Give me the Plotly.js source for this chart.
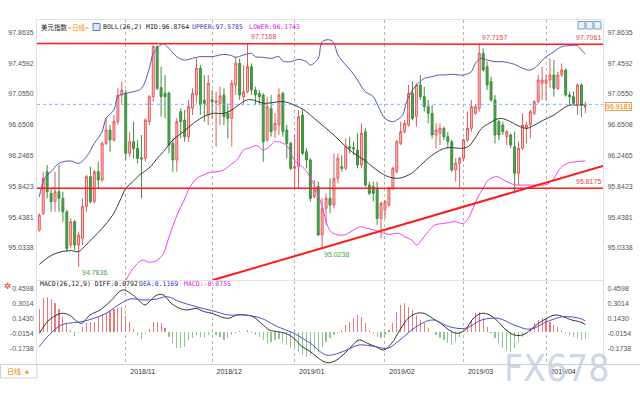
<!DOCTYPE html>
<html><head><meta charset="utf-8">
<script src="https://cdn.plot.ly/plotly-3.0.1.min.js"></script>
<style>html,body{margin:0;padding:0;background:#fff}#chart{width:640px;height:400px}</style>
</head><body><div id="chart"></div>
<script>
// ---- data ----
const open = [95.269,95.488,96.034,95.750,95.641,95.772,95.684,95.509,95.072,95.378,
95.072,95.160,95.575,95.969,95.641,96.034,95.925,96.406,96.581,96.450,
96.691,97.041,97.063,96.275,96.428,96.341,96.218,96.210,96.691,97.019,
97.675,97.137,97.063,97.063,96.406,96.188,96.822,96.713,96.494,96.866,
97.041,97.391,96.975,96.778,96.975,96.944,96.931,97.041,96.800,96.734,
97.172,97.456,97.019,97.084,97.412,97.106,97.063,97.041,96.450,96.866,
96.581,96.647,97.063,96.581,96.406,96.078,96.100,96.778,96.297,96.188,
95.706,95.838,95.203,95.553,95.684,95.597,95.947,96.100,96.078,96.363,
96.350,96.319,96.122,96.559,95.859,95.838,95.816,95.422,95.531,95.597,
95.816,96.034,96.406,96.559,96.647,97.063,96.756,97.172,97.019,96.888,
96.800,96.516,96.538,96.603,96.494,96.428,96.056,96.144,96.210,96.450,
96.603,96.800,96.866,97.587,97.412,97.216,96.975,96.691,96.647,96.494,
96.516,96.363,96.013,96.341,96.603,96.647,96.800,96.953,97.194,97.194,
97.237,97.303,97.128,97.303,97.369,97.041,97.019,96.909,97.172,96.905];
const high = [95.488,96.034,96.122,95.816,96.034,96.122,95.772,95.531,95.422,95.400,
95.247,95.684,95.991,96.100,96.056,96.166,96.428,96.734,96.647,96.778,
97.128,97.216,97.106,96.559,96.691,96.450,96.516,96.734,97.041,97.700,
97.690,97.412,97.303,97.084,96.472,96.734,96.866,96.844,96.975,97.128,
97.522,97.434,97.303,97.303,97.106,97.084,97.150,97.128,96.931,97.237,
97.544,97.522,97.434,97.7168,97.456,97.150,97.106,97.063,97.019,97.041,
96.800,97.128,97.084,96.647,96.428,96.516,96.844,96.844,96.341,96.210,
95.925,95.903,95.684,95.750,95.947,96.275,96.275,96.253,96.472,96.494,
96.428,96.538,96.669,96.603,95.903,95.903,95.903,95.641,95.663,95.838,
96.100,96.450,96.691,96.713,97.172,97.216,97.194,97.303,97.150,96.975,
96.909,96.669,96.669,96.625,96.559,96.450,96.210,96.231,96.472,96.822,
96.975,96.909,97.7157,97.653,97.478,97.281,97.041,96.713,96.691,96.581,
96.538,96.559,96.428,96.800,96.691,96.844,96.975,97.303,97.412,97.303,
97.522,97.500,97.347,97.456,97.391,97.084,97.084,97.194,97.194,96.953];
const low = [95.247,95.466,95.684,95.509,95.509,95.509,95.378,94.984,95.028,95.006,
94.7836,95.072,95.509,95.619,95.619,95.816,95.903,96.384,96.297,96.428,
96.647,96.931,96.188,96.231,96.210,96.144,95.684,96.166,96.647,96.953,
97.106,96.756,96.734,96.275,96.034,96.034,96.472,96.428,96.428,96.778,
96.931,96.778,96.691,96.647,96.734,96.363,96.647,96.647,96.472,96.363,
97.041,96.975,96.909,97.063,97.041,96.909,96.909,96.166,96.428,96.494,
96.472,96.516,96.494,96.210,96.056,95.816,95.816,96.253,96.078,95.641,
95.684,95.195,95.0238,95.335,95.488,95.553,95.881,96.034,96.056,96.275,
96.253,96.078,96.078,95.838,95.728,95.641,95.335,95.160,95.422,95.575,
95.794,96.013,96.384,96.538,96.625,96.713,96.625,96.975,96.822,96.669,
96.472,96.341,96.384,96.450,96.341,96.034,95.903,95.825,96.166,96.428,
96.559,96.778,96.822,97.347,97.106,96.953,96.406,96.450,96.516,96.384,
96.341,95.750,95.859,96.319,96.406,96.472,96.778,96.931,96.975,96.975,
97.128,97.019,97.106,97.281,97.019,96.909,96.909,96.778,96.756,96.800];
const close = [95.466,95.947,95.772,95.641,95.772,95.684,95.509,95.028,95.378,95.072,
95.203,95.575,95.969,95.641,96.034,95.925,96.406,96.581,96.450,96.691,
97.041,97.106,96.275,96.428,96.341,96.210,96.201,96.713,97.019,97.675,
97.128,97.019,97.019,96.384,96.188,96.691,96.691,96.494,96.888,97.063,
97.391,96.909,96.931,97.194,96.953,96.962,97.028,96.756,96.734,97.194,
97.456,97.041,97.084,97.412,97.106,97.041,97.019,96.428,96.888,96.559,
96.669,97.041,96.559,96.406,96.078,96.100,96.756,96.275,96.188,95.684,
95.794,95.203,95.553,95.684,95.597,95.947,96.210,96.078,96.363,96.341,
96.332,96.122,96.538,95.859,95.750,95.750,95.422,95.619,95.641,95.816,
96.078,96.428,96.559,96.669,97.063,96.734,97.172,97.019,96.888,96.800,
96.516,96.581,96.603,96.494,96.428,96.056,96.144,96.210,96.450,96.603,
96.888,96.888,97.587,97.369,97.172,96.975,96.516,96.516,96.559,96.559,
96.384,96.013,96.341,96.647,96.647,96.822,96.953,97.237,97.237,97.237,
97.303,97.128,97.303,97.369,97.041,97.019,96.931,97.172,96.909,96.9181];

// BOLL(26,2) bands, [candle index, value]
const upperPts = [[0,95.706],[1,95.903],[2,95.991],[3,96.034],[5,96.144],[8,96.175],[10,96.144],[12,96.231],[14,96.406],[16,96.559],[17,96.734],[19,96.844],[20,97.019],[22,97.063],[24,97.084],[26,97.128],[28,97.391],[29,97.587],[30,97.653],[31.5,97.715],[33,97.653],[35,97.544],[37,97.500],[39,97.522],[41,97.544],[44,97.544],[47,97.574],[49,97.557],[50,97.535],[52,97.566],[54,97.587],[55,97.544],[57,97.535],[59,97.522],[61,97.544],[62,97.487],[64,97.478],[66,97.509],[68,97.478],[69,97.434],[71,97.522],[72,97.741],[74,97.763],[75,97.719],[76,97.566],[78,97.434],[79.5,97.347],[81,97.237],[83,97.084],[85,97.019],[86.5,96.866],[88,96.734],[90,96.691],[91,96.713],[92.5,96.778],[93.5,96.953],[95,97.106],[96.5,97.194],[98,97.259],[100,97.281],[101.5,97.303],[103,97.303],[105,97.312],[107,97.303],[108,97.303],[110,97.347],[111,97.456],[112.5,97.522],[114,97.500],[116,97.478],[118,97.478],[121,97.443],[123,97.391],[125,97.369],[127,97.434],[128.5,97.522],[131,97.609],[133,97.675],[135,97.688],[137,97.688],[138,97.631],[139,97.5785]];
const midPts = [[0,94.818],[2.5,94.919],[5,94.976],[8,94.998],[10,94.985],[11.5,95.050],[13.5,95.160],[16,95.291],[18.7,95.466],[20.8,95.684],[22,95.816],[23.8,95.903],[25.5,95.991],[26.7,96.034],[28.5,96.110],[30,96.210],[31.6,96.297],[34,96.450],[36.7,96.559],[39.2,96.669],[41.8,96.756],[44.3,96.800],[46.9,96.800],[49,96.844],[50.7,96.909],[52.8,96.975],[54.5,96.975],[56.2,96.944],[57.7,96.931],[59.8,96.944],[62.3,96.953],[64.9,96.909],[67.4,96.844],[70,96.734],[72.5,96.625],[75,96.516],[77.6,96.384],[80.1,96.275],[82.7,96.188],[84.8,96.100],[86.5,96.034],[88.8,95.969],[91.4,95.947],[93,95.969],[94.8,96.013],[96.4,96.087],[99,96.210],[100.7,96.275],[103.2,96.341],[105,96.350],[107.5,96.341],[109.2,96.363],[110.9,96.472],[112.6,96.603],[114.5,96.669],[116,96.713],[117.3,96.734],[119,96.713],[120.7,96.669],[122.4,96.625],[124.1,96.603],[125.8,96.638],[128.4,96.713],[131,96.778],[133.4,96.866],[135.1,96.909],[136.8,96.909],[138.5,96.909],[139,96.8764]];
const lowerPts = [[22,94.600],[23,94.700],[24.6,94.810],[26.3,94.875],[28,94.845],[30,94.875],[31.6,94.960],[32.9,95.160],[34.1,95.335],[35.4,95.509],[36.7,95.641],[38.4,95.838],[40.1,95.947],[41.8,95.991],[43.5,96.026],[45.2,96.034],[46.9,96.056],[48.6,96.122],[50.3,96.188],[52,96.319],[53.7,96.350],[55.4,96.376],[57,96.319],[59,96.384],[59.8,96.428],[61.5,96.420],[63.2,96.363],[64.4,96.231],[65.7,96.144],[67.4,96.078],[69.1,95.947],[70.7,95.772],[72,95.575],[73.3,95.335],[74.2,95.247],[75.4,95.212],[77.6,95.203],[79.3,95.247],[81.8,95.313],[83.5,95.291],[85.2,95.269],[86.7,95.247],[88.8,95.212],[91.4,95.225],[93,95.181],[94.8,95.138],[96.1,95.072],[97.3,95.138],[99,95.247],[100.7,95.335],[103.2,95.356],[105.7,95.378],[107.9,95.356],[109.2,95.422],[110.4,95.553],[111.7,95.706],[113,95.816],[114.3,95.925],[116.5,95.969],[118.2,95.925],[119.9,95.881],[121.6,95.859],[124.1,95.859],[126.7,95.859],[129.3,95.868],[131,95.947],[132.6,96.078],[134.4,96.144],[136.8,96.166],[139,96.1743]];

// MACD(26,12,9)
const diffPts = [[0,-0.016],[2.5,0.125],[5.6,0.195],[7.6,0.178],[9.7,0.107],[10.8,0.090],[12.9,0.178],[15.5,0.231],[18,0.319],[21.2,0.442],[23.2,0.407],[25.3,0.336],[26.9,0.283],[28.4,0.336],[30,0.389],[31.6,0.389],[33.6,0.301],[35.7,0.248],[37.8,0.231],[39.9,0.248],[42,0.213],[44,0.195],[46.1,0.160],[48.2,0.143],[50.3,0.178],[52.3,0.178],[54.4,0.160],[56.5,0.090],[58.6,0.019],[60.6,0.002],[62.7,-0.016],[64.8,-0.069],[66.9,-0.157],[69,-0.209],[71.1,-0.280],[73.1,-0.325],[75.2,-0.310],[77.3,-0.245],[79.4,-0.157],[81.4,-0.086],[83.5,-0.121],[85.6,-0.157],[87.7,-0.192],[89.7,-0.121],[91.8,0.019],[93.9,0.143],[96,0.195],[98,0.195],[100.1,0.143],[102.2,0.090],[104.3,0.019],[106.4,-0.016],[108.4,0.019],[110.5,0.143],[112.6,0.195],[114.7,0.178],[116.8,0.107],[118.8,0.019],[120.9,-0.033],[123,-0.033],[125,0.019],[127.1,0.090],[129.2,0.143],[131.3,0.178],[133.4,0.160],[135.5,0.125],[137.5,0.107],[139,0.0792]];
const deaPts = [[0,-0.157],[2.5,-0.033],[5.6,0.072],[8.7,0.097],[10.8,0.107],[13.9,0.143],[17,0.195],[20.1,0.283],[23.2,0.347],[26.4,0.336],[29.5,0.343],[32.6,0.371],[35.7,0.319],[39.9,0.266],[44,0.224],[48.2,0.178],[52.3,0.178],[56.5,0.143],[60.6,0.055],[64.8,-0.016],[69,-0.121],[73.1,-0.245],[77.3,-0.209],[81.4,-0.139],[85.6,-0.157],[88.7,-0.174],[91.8,-0.086],[96,0.055],[100.1,0.125],[104.3,0.055],[108.4,0.037],[112.6,0.125],[116.8,0.143],[120.9,0.072],[125,0.027],[129.2,0.107],[133.4,0.160],[137.5,0.143],[139,0.1169]];
const macdHist = [0.238,0.354,0.364,0.343,0.308,0.238,0.160,0.090,0.019,-0.044,
-0.016,0.055,0.097,0.107,0.107,0.153,0.185,0.202,0.224,0.238,
0.248,0.266,0.170,0.100,0.030,-0.033,-0.079,-0.016,0.026,0.107,
0.107,0.090,0.037,-0.051,-0.121,-0.174,-0.174,-0.157,-0.086,-0.069,
-0.033,-0.051,-0.069,-0.033,-0.016,-0.033,-0.051,-0.086,-0.069,-0.033,
-0.009,0.012,0.002,0.019,-0.009,-0.033,-0.051,-0.086,-0.121,-0.104,
-0.086,-0.079,-0.104,-0.139,-0.174,-0.192,-0.209,-0.245,-0.262,-0.245,
-0.192,-0.209,-0.157,-0.104,-0.069,-0.033,-0.016,0.019,0.072,0.107,
0.143,0.178,0.160,0.090,0.019,-0.016,-0.051,-0.069,-0.033,0.019,
0.090,0.213,0.283,0.301,0.266,0.231,0.178,0.125,0.090,0.037,
0.002,-0.033,-0.069,-0.086,-0.121,-0.139,-0.104,-0.051,0.002,0.055,
0.125,0.196,0.213,0.143,0.055,-0.016,-0.069,-0.121,-0.174,-0.192,
-0.209,-0.174,-0.104,-0.051,0.002,0.037,0.090,0.125,0.143,0.132,
0.107,0.072,0.055,0.019,-0.016,-0.033,-0.051,-0.069,-0.086,-0.0755];

// drawn lines: [candle index], [price]
const resistX = [-0.6, 143.5], resistY = [97.7168, 97.7061];
const supportX = [-0.6, 143.5], supportY = [95.8175, 95.8175];
const trendX = [44.2, 143.5], trendY = [94.612, 96.11];
const lastClose = 96.9181;

const priceTicks = [97.8635,97.4592,97.0550,96.6508,96.2465,95.8423,95.4381,95.0338];
const macdTicks = [0.4598,0.3014,0.1430,-0.0154,-0.1738];

// trading days (weekdays) 2018-10-02 .. 2019-04-15
const dates = [];
for (let t = Date.UTC(2018,9,2); t <= Date.UTC(2019,3,15); t += 86400000) {
  const d = new Date(t); const wd = d.getUTCDay();
  if (wd !== 0 && wd !== 6) dates.push(d);
}
const idx = dates.map((d,i)=>i);
const monthIdx = [], monthLbl = [];
dates.forEach((d,i)=>{ if (i>0 && d.getUTCMonth() !== dates[i-1].getUTCMonth()) {
  monthIdx.push(i); monthLbl.push(d.getUTCFullYear()+'/'+String(d.getUTCMonth()+1).padStart(2,'0')); }});

// ---- layout helpers (pixel -> paper) ----
const L=37, R=603, T=20, B=364, W=R-L, H=B-T;
const px = v => (v-L)/W, py = v => (B-v)/H;
const mono = 'DejaVu Sans Mono, Noto Sans CJK SC, monospace';
const sans = 'Liberation Sans, Arial, sans-serif';
const col = a => a.map(p=>p[0]), val = a => a.map(p=>p[1]);

const traces = [
  {type:'candlestick', x:idx, open, high, low, close, xaxis:'x', yaxis:'y',
   increasing:{line:{color:'#e35a5a',width:1}, fillcolor:'#f6c4c4'},
   decreasing:{line:{color:'#3e8e3e',width:1}, fillcolor:'#4f9d4f'},
   whiskerwidth:0, hoverinfo:'skip'},
  {type:'scatter', mode:'lines', x:col(upperPts), y:val(upperPts), line:{color:'#5555b5',width:1,shape:'spline'}, hoverinfo:'skip'},
  {type:'scatter', mode:'lines', x:col(midPts), y:val(midPts), line:{color:'#3a3a3a',width:1,shape:'spline'}, hoverinfo:'skip'},
  {type:'scatter', mode:'lines', x:col(lowerPts), y:val(lowerPts), line:{color:'#ee44ee',width:1,shape:'spline'}, hoverinfo:'skip'},
  {type:'scatter', mode:'lines', x:resistX, y:resistY, line:{color:'#ff1a1a',width:1.5}, hoverinfo:'skip'},
  {type:'scatter', mode:'lines', x:supportX, y:supportY, line:{color:'#ff1a1a',width:1.5}, hoverinfo:'skip'},
  {type:'scatter', mode:'lines', x:trendX, y:trendY, line:{color:'#ff1a1a',width:2}, hoverinfo:'skip'},
  {type:'scatter', mode:'lines', x:[-0.6,143.5], y:[lastClose,lastClose], line:{color:'#7ab4ee',width:1,dash:'dot'}, hoverinfo:'skip'},
  {type:'scatter', mode:'lines', x:idx, y:close, yaxis:'y2', opacity:0, hoverinfo:'skip'},
  {type:'bar', x:idx, y:macdHist, xaxis:'x2', yaxis:'y3', width:0.3,
   marker:{color:macdHist.map(v=>v>=0?'#e97a7a':'#8fc58f'), line:{width:0}}, hoverinfo:'skip'},
  {type:'scatter', mode:'lines', x:col(diffPts), y:val(diffPts), xaxis:'x2', yaxis:'y3', line:{color:'#333',width:1,shape:'spline'}, hoverinfo:'skip'},
  {type:'scatter', mode:'lines', x:col(deaPts), y:val(deaPts), xaxis:'x2', yaxis:'y3', line:{color:'#5050c8',width:1,shape:'spline'}, hoverinfo:'skip'},
  {type:'scatter', mode:'lines', x:idx, y:macdHist, xaxis:'x2', yaxis:'y4', opacity:0, hoverinfo:'skip'}
];

const xr = [-0.59, 143.5];
const tickFont = {family:sans, size:7, color:'#555'};
const yMainRange = [94.613, 98.025], yMacdRange = [-0.34, 0.537];
const fmt = a => a.map(v=>v.toFixed(4));

const ann = (x,y,text,color,extra) => Object.assign({xref:'paper',yref:'paper',x:px(x),y:py(y),xanchor:'left',yanchor:'middle',
  text, showarrow:false, font:{family:mono,size:6.5,color}}, extra||{});

const annotations = [
  ann(39,27,'美元指数','#222'),
  ann(66,27,'&lt;日线&gt;','#f08a00'),
  ann(101,27,'BOLL(26,2) MID:96.8764','#222'),
  ann(190,27,'UPPER:97.5785','#3434c4'),
  ann(247,27,'LOWER:96.1743','#e020e0'),
  ann(38,283.5,'MACD(26,12,9) DIFF:0.0792','#222'),
  ann(137,283.5,'DEA:0.1169','#3434c4'),
  ann(182,283.5,'MACD:-0.0755','#e020e0'),
  // price marks
  {xref:'x',yref:'y',x:53,y:97.7168,xanchor:'left',yanchor:'bottom',xshift:1,yshift:1,text:'97.7168',showarrow:false,font:{family:sans,size:7,color:'#e04848'}},
  {xref:'x',yref:'y',x:112,y:97.7157,xanchor:'left',yanchor:'bottom',xshift:1,yshift:1,text:'97.7157',showarrow:false,font:{family:sans,size:7,color:'#e04848'}},
  {xref:'paper',yref:'y',x:1,y:97.7061,xanchor:'right',yanchor:'bottom',yshift:1,text:'97.7061',showarrow:false,font:{family:sans,size:7,color:'#e04848'}},
  {xref:'paper',yref:'y',x:1,y:95.8175,xanchor:'right',yanchor:'bottom',yshift:1,text:'95.8175',showarrow:false,font:{family:sans,size:7,color:'#e04848'}},
  {xref:'x',yref:'y',x:10,y:94.7836,xanchor:'left',yanchor:'top',xshift:1,text:'94.7836',showarrow:false,font:{family:sans,size:7,color:'#4aa04a'}},
  {xref:'x',yref:'y',x:72,y:95.0238,xanchor:'left',yanchor:'top',xshift:0,text:'95.0238',showarrow:false,font:{family:sans,size:7,color:'#4aa04a'}},
  {xref:'paper',yref:'y',x:1,y:lastClose,xanchor:'left',yanchor:'middle',xshift:2,yshift:-2,text:'96.9181',showarrow:false,
   font:{family:sans,size:7,color:'#f07800'},bordercolor:'#f0a040',borderwidth:1,borderpad:0,bgcolor:'#fff'},
  // misc
  ann(5,371,'日线','#f08a00',{font:{family:'Noto Sans CJK SC',size:7,color:'#f08a00'}}),
  ann(23,370.5,'▲','#f08a00',{font:{family:'DejaVu Sans',size:5,color:'#f08a00'}}),
  ann(2,286,'✲','#e03030',{font:{family:'DejaVu Sans',size:9,color:'#e03030'}}),
  {xref:'paper',yref:'paper',x:px(556),y:py(368),xanchor:'center',yanchor:'middle',text:'FX678',showarrow:false,
   font:{family:'Liberation Sans Narrow, DejaVu Sans Condensed, sans-serif',size:37,color:'rgba(196,208,226,0.85)'}}
];

const shapes = [
  {type:'rect',xref:'paper',yref:'paper',x0:px(93),x1:px(100),y0:py(30.5),y1:py(23.5),fillcolor:'#dfe8fb',line:{color:'#5a78c8',width:1}},
  {type:'rect',xref:'paper',yref:'paper',x0:px(578),x1:px(585),y0:py(29),y1:py(21.5),fillcolor:'#e8f0fa',line:{color:'#7aa0cc',width:1}},
  {type:'rect',xref:'paper',yref:'paper',x0:px(586),x1:px(593),y0:py(29),y1:py(21.5),fillcolor:'#e8f0fa',line:{color:'#7aa0cc',width:1}},
  {type:'rect',xref:'paper',yref:'paper',x0:px(594),x1:px(601),y0:py(29),y1:py(21.5),fillcolor:'#e8f0fa',line:{color:'#7aa0cc',width:1}},
  {type:'line',xref:'paper',yref:'paper',x0:px(0),x1:px(640),y0:py(364.5),y1:py(364.5),line:{color:'#cfcfcf',width:1}},
  {type:'rect',xref:'paper',yref:'paper',x0:px(0.5),x1:px(37),y0:py(364.5),y1:py(378),line:{color:'#d0d0d0',width:1}}
];

const layout = {
  width:640, height:400, margin:{l:L, r:640-R, t:T, b:400-B},
  paper_bgcolor:'#fff', plot_bgcolor:'#fff', showlegend:false, bargap:0,
  xaxis:{domain:[0,1], anchor:'y', range:xr, tickvals:monthIdx, showticklabels:false, ticks:'',
    showgrid:true, gridcolor:'#b5b5b5', griddash:'dot', gridwidth:1, zeroline:false,
    rangeslider:{visible:false}, showline:true, linecolor:'#e2e2e2', mirror:true},
  xaxis2:{domain:[0,1], anchor:'y3', range:xr, tickvals:monthIdx, ticktext:monthLbl, ticks:'',
    tickfont:{family:sans,size:7,color:'#333'}, ticklabelshift:17, ticklabelstandoff:1,
    showgrid:true, gridcolor:'#b5b5b5', griddash:'dot', gridwidth:1, zeroline:false,
    showline:true, linecolor:'#e2e2e2', mirror:true},
  yaxis:{domain:[(B-280)/H,1], anchor:'x', range:yMainRange, tickvals:priceTicks, ticktext:fmt(priceTicks),
    tickfont:tickFont, showgrid:false, zeroline:false, ticks:'', ticklabelstandoff:1, showline:true, linecolor:'#e2e2e2'},
  yaxis2:{overlaying:'y', side:'right', anchor:'x', range:yMainRange, tickvals:priceTicks, ticktext:fmt(priceTicks),
    tickfont:tickFont, showgrid:false, zeroline:false, ticks:'', ticklabelstandoff:2, showline:true, linecolor:'#e2e2e2'},
  yaxis3:{domain:[0,(B-281)/H], anchor:'x2', range:yMacdRange, tickvals:macdTicks, ticktext:fmt(macdTicks),
    tickfont:tickFont, showgrid:false, zeroline:false, ticks:'', ticklabelstandoff:1, showline:true, linecolor:'#e2e2e2'},
  yaxis4:{overlaying:'y3', side:'right', anchor:'x2', range:yMacdRange, tickvals:macdTicks, ticktext:fmt(macdTicks),
    tickfont:tickFont, showgrid:false, zeroline:false, ticks:'', ticklabelstandoff:2, showline:true, linecolor:'#e2e2e2'},
  annotations, shapes
};

Plotly.newPlot('chart', traces, layout, {staticPlot:true, displayModeBar:false});
</script></body></html>
